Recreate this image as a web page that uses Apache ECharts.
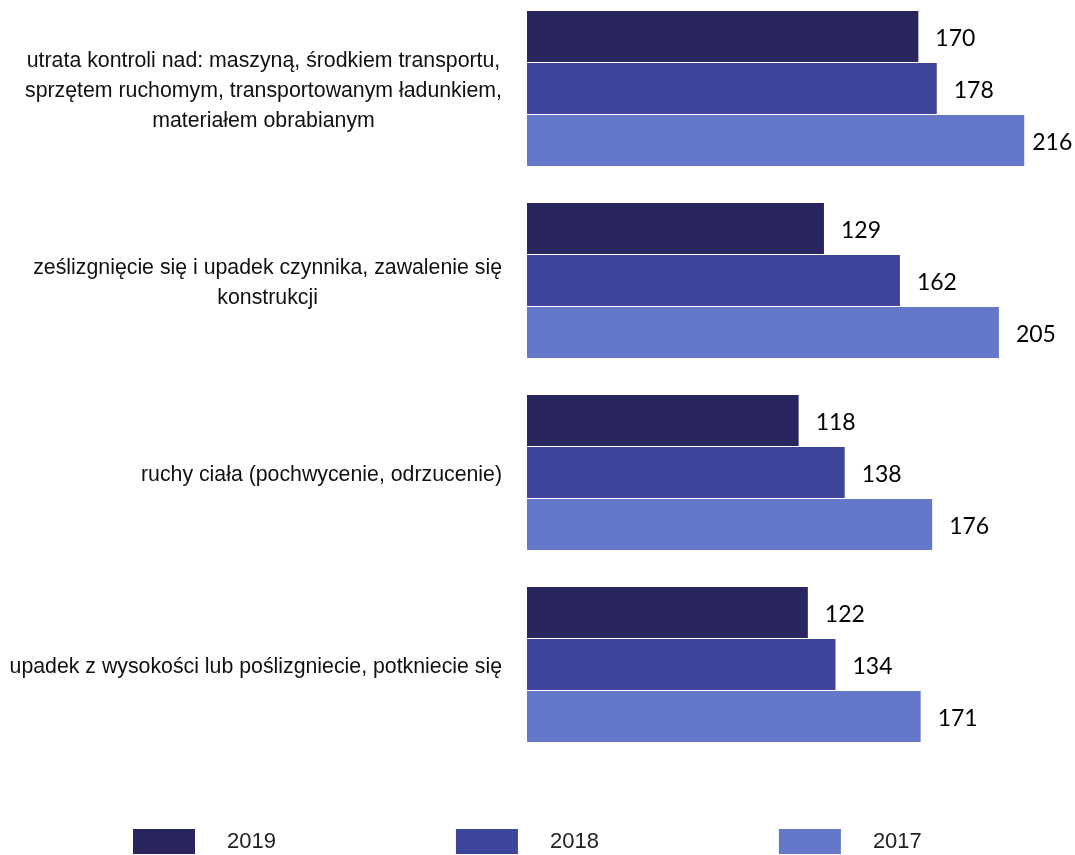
<!DOCTYPE html>
<html>
<head>
<meta charset="utf-8">
<script src="https://cdn.jsdelivr.net/npm/echarts@6/dist/echarts.min.js"></script>
<style>
  html, body { margin: 0; padding: 0; background: #fff; }
  #chart { width: 1075px; height: 855px; }
</style>
</head>
<body>
<div id="chart"></div>
<script>
// kategorie (od góry)
const categories = [
  'utrata kontroli nad: maszyną, środkiem transportu,\nsprzętem ruchomym, transportowanym ładunkiem,\nmateriałem obrabianym',
  'ześlizgnięcie się i upadek czynnika, zawalenie się\nkonstrukcji',
  'ruchy ciała (pochwycenie, odrzucenie)',
  'upadek z wysokości lub poślizgniecie, potkniecie się'
]
const years = ['2019', '2018', '2017']
const values2019 = [170, 129, 118, 122]
const values2018 = [178, 162, 138, 134]
const values2017 = [216, 205, 176, 171]

const colors = ['#29265f', '#3d4499', '#6577c9']

const chart = echarts.init(document.getElementById('chart'))

function makeSeries(name, data, color) {
  return {
    name,
    type: 'bar',
    barWidth: 51,
    barGap: '2%',
    data: data.map(v => {
      // etykieta przy najdłuższym słupku przesunięta bliżej (jak w oryginale)
      if (v > 210) return { value: v, label: { distance: 8 } }
      return v
    }),
    itemStyle: { color },
    label: {
      show: true,
      position: 'right',
      distance: 17,
      offset: [0, 2],
      fontFamily: 'Lato',
      fontSize: 23,
      color: '#000'
    }
  }
}

chart.setOption({
  animation: false,
  color: colors,
  grid: {
    left: 527,
    top: -7.5,
    width: 575.5,
    height: 768,
    containLabel: false,
    outerBoundsMode: 'none'
  },
  xAxis: {
    type: 'value',
    min: 0,
    max: 250,
    show: false
  },
  yAxis: {
    type: 'category',
    inverse: true,
    data: categories,
    axisLine: { show: false },
    axisTick: { show: false },
    splitLine: { show: false },
    axisLabel: {
      margin: 25,
      padding: [6, 0, 0, 0],
      formatter: v => v.split('\n').map(l => '{c|' + l + '}').join('\n'),
      rich: {
        c: {
          align: 'center',
          fontFamily: 'Liberation Sans',
          fontSize: 21.3,
          lineHeight: 30,
          color: '#111'
        }
      }
    }
  },
  legend: {
    data: years,
    left: 128,
    top: 824,
    itemWidth: 62,
    itemHeight: 25,
    itemGap: 180,
    icon: 'rect',
    textStyle: {
      fontFamily: 'Liberation Sans',
      fontSize: 22,
      color: '#222',
      padding: [4, 0, 0, 27]
    }
  },
  series: [
    makeSeries('2019', values2019, colors[0]),
    makeSeries('2018', values2018, colors[1]),
    makeSeries('2017', values2017, colors[2])
  ]
})
</script>
</body>
</html>
